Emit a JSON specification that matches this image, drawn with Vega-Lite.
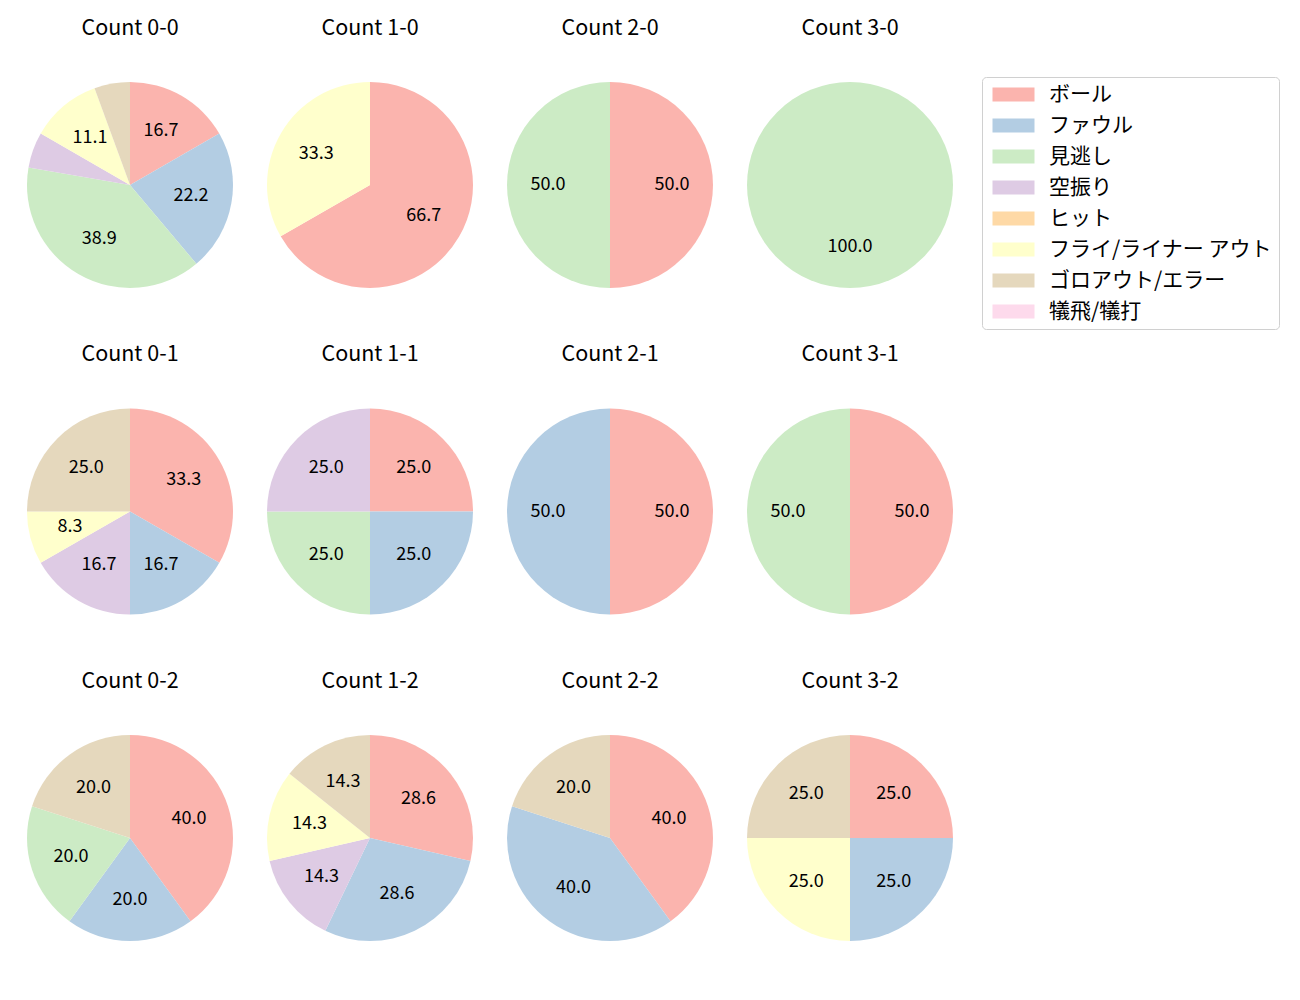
{
  "$schema": "https://vega.github.io/schema/vega-lite/v6.json",
  "padding": {"left": 20, "top": 17, "right": 10, "bottom": 10},
  "background": "white",
  "config": {"view": {"stroke": null}, "font": "Noto Sans CJK JP"},
  "data": {"values": [
    {"c": "Count 0-0", "t": "ボール", "k": 0, "p": 16.7},
    {"c": "Count 0-0", "t": "ファウル", "k": 1, "p": 22.2},
    {"c": "Count 0-0", "t": "見逃し", "k": 2, "p": 38.9},
    {"c": "Count 0-0", "t": "空振り", "k": 3, "p": 5.6},
    {"c": "Count 0-0", "t": "フライ/ライナー アウト", "k": 5, "p": 11.1},
    {"c": "Count 0-0", "t": "ゴロアウト/エラー", "k": 6, "p": 5.6},
    {"c": "Count 1-0", "t": "ボール", "k": 0, "p": 66.7},
    {"c": "Count 1-0", "t": "フライ/ライナー アウト", "k": 5, "p": 33.3},
    {"c": "Count 2-0", "t": "ボール", "k": 0, "p": 50.0},
    {"c": "Count 2-0", "t": "見逃し", "k": 2, "p": 50.0},
    {"c": "Count 3-0", "t": "見逃し", "k": 2, "p": 100.0},
    {"c": "Count 0-1", "t": "ボール", "k": 0, "p": 33.3},
    {"c": "Count 0-1", "t": "ファウル", "k": 1, "p": 16.7},
    {"c": "Count 0-1", "t": "空振り", "k": 3, "p": 16.7},
    {"c": "Count 0-1", "t": "フライ/ライナー アウト", "k": 5, "p": 8.3},
    {"c": "Count 0-1", "t": "ゴロアウト/エラー", "k": 6, "p": 25.0},
    {"c": "Count 1-1", "t": "ボール", "k": 0, "p": 25.0},
    {"c": "Count 1-1", "t": "ファウル", "k": 1, "p": 25.0},
    {"c": "Count 1-1", "t": "見逃し", "k": 2, "p": 25.0},
    {"c": "Count 1-1", "t": "空振り", "k": 3, "p": 25.0},
    {"c": "Count 2-1", "t": "ボール", "k": 0, "p": 50.0},
    {"c": "Count 2-1", "t": "ファウル", "k": 1, "p": 50.0},
    {"c": "Count 3-1", "t": "ボール", "k": 0, "p": 50.0},
    {"c": "Count 3-1", "t": "見逃し", "k": 2, "p": 50.0},
    {"c": "Count 0-2", "t": "ボール", "k": 0, "p": 40.0},
    {"c": "Count 0-2", "t": "ファウル", "k": 1, "p": 20.0},
    {"c": "Count 0-2", "t": "見逃し", "k": 2, "p": 20.0},
    {"c": "Count 0-2", "t": "ゴロアウト/エラー", "k": 6, "p": 20.0},
    {"c": "Count 1-2", "t": "ボール", "k": 0, "p": 28.6},
    {"c": "Count 1-2", "t": "ファウル", "k": 1, "p": 28.6},
    {"c": "Count 1-2", "t": "空振り", "k": 3, "p": 14.3},
    {"c": "Count 1-2", "t": "フライ/ライナー アウト", "k": 5, "p": 14.3},
    {"c": "Count 1-2", "t": "ゴロアウト/エラー", "k": 6, "p": 14.3},
    {"c": "Count 2-2", "t": "ボール", "k": 0, "p": 40.0},
    {"c": "Count 2-2", "t": "ファウル", "k": 1, "p": 40.0},
    {"c": "Count 2-2", "t": "ゴロアウト/エラー", "k": 6, "p": 20.0},
    {"c": "Count 3-2", "t": "ボール", "k": 0, "p": 25.0},
    {"c": "Count 3-2", "t": "ファウル", "k": 1, "p": 25.0},
    {"c": "Count 3-2", "t": "フライ/ライナー アウト", "k": 5, "p": 25.0},
    {"c": "Count 3-2", "t": "ゴロアウト/エラー", "k": 6, "p": 25.0}
  ]},
  "facet": {
    "field": "c",
    "type": "nominal",
    "sort": ["Count 0-0", "Count 1-0", "Count 2-0", "Count 3-0", "Count 0-1", "Count 1-1", "Count 2-1", "Count 3-1", "Count 0-2", "Count 1-2", "Count 2-2", "Count 3-2"],
    "header": {"title": null, "labelFontSize": 21.5, "labelColor": "black", "labelFont": "Noto Sans CJK JP", "labelPadding": 16}
  },
  "columns": 4,
  "spacing": {"row": 28.5, "column": 20},
  "spec": {
    "width": 220,
    "height": 260,
    "encoding": {
      "theta": {"field": "p", "type": "quantitative", "stack": true},
      "order": {"field": "k", "type": "quantitative", "sort": "ascending"}
    },
    "layer": [
      {
        "mark": {"type": "arc", "outerRadius": 103, "stroke": null},
        "encoding": {
          "color": {
            "field": "t", "type": "nominal",
            "scale": {
              "domain": ["ボール", "ファウル", "見逃し", "空振り", "ヒット", "フライ/ライナー アウト", "ゴロアウト/エラー", "犠飛/犠打"],
              "range": ["#fbb4ae", "#b3cde3", "#ccebc5", "#decbe4", "#fed9a6", "#ffffcc", "#e5d8bd", "#fddaec"]
            },
            "legend": {
              "title": null,
              "orient": "none",
              "legendX": 962,
              "legendY": 22,
              "labelFontSize": 21,
              "labelColor": "black",
              "labelFont": "Noto Sans CJK JP",
              "symbolType": "M-1,-1H5V1H-1Z",
              "symbolSize": 196,
              "symbolStrokeWidth": 0,
              "symbolOpacity": 1,
              "labelOffset": 39,
              "rowPadding": 9,
              "padding": 7,
              "strokeColor": "#d0d0d0",
              "cornerRadius": 4,
              "fillColor": "white",
              "labelLimit": 400
            }
          }
        }
      },
      {
        "mark": {"type": "text", "radius": 62, "fontSize": 18, "color": "black", "font": "Noto Sans CJK JP"},
        "encoding": {
          "text": {"condition": {"test": "datum.p < 6", "value": ""}, "field": "p", "type": "quantitative", "format": ".1f"}
        }
      }
    ]
  }
}
